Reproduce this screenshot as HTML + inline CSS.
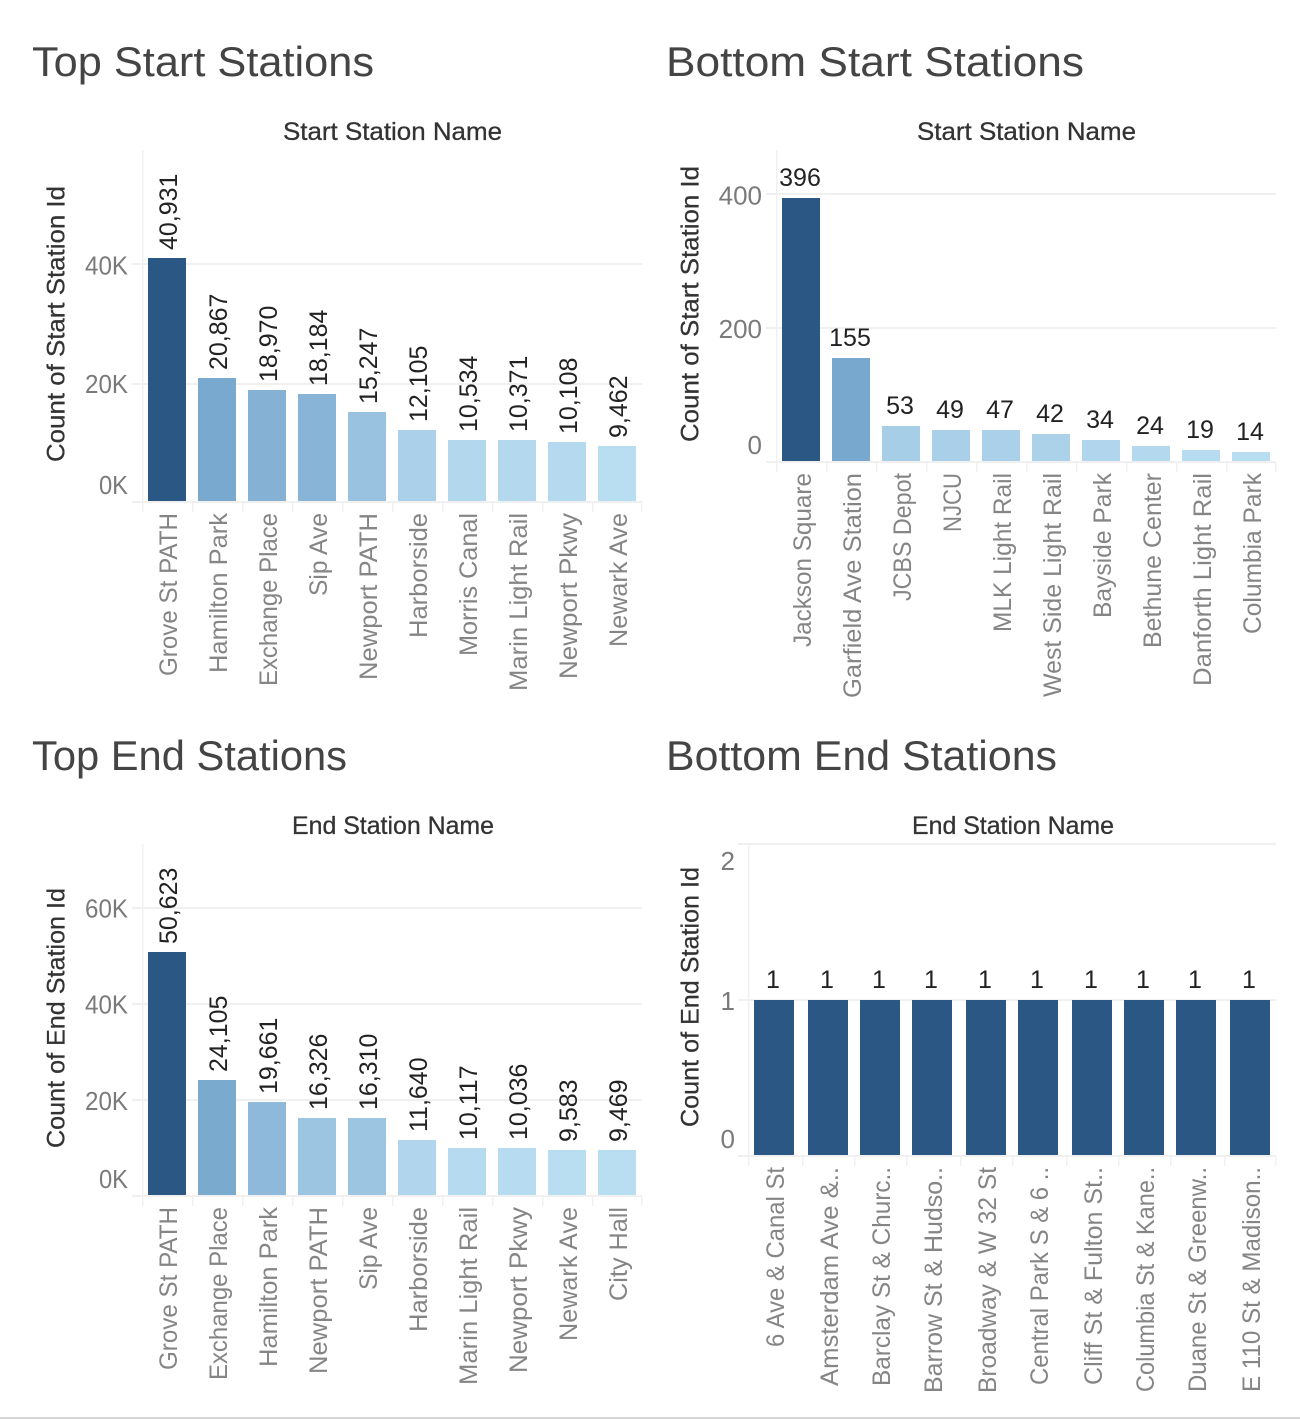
<!DOCTYPE html>
<html lang="en">
<head>
<meta charset="utf-8">
<title>Station Ride Counts</title>
<style>
html,body{margin:0;padding:0;background:#fff;width:1300px;height:1420px;overflow:hidden}
svg{display:block}
text{font-family:"Liberation Sans",sans-serif}
.title{font-size:42px;fill:#444}
.header{font-size:25px;fill:#333;stroke:#333;stroke-width:.3px;text-anchor:middle}
.axis-title{font-size:25px;fill:#333;stroke:#333;stroke-width:.25px;text-anchor:middle}
.tick-label{font-size:26px;fill:#7a7a7a;text-anchor:end}
.cat-label{font-size:25px;fill:#858585;text-anchor:end}
.value-label{font-size:25px;fill:#222}
</style>
</head>
<body>
<svg id="dash" xmlns="http://www.w3.org/2000/svg" width="1300" height="1420" viewBox="0 0 1300 1420">
  <text class="title" x="32" y="76" textLength="342" lengthAdjust="spacingAndGlyphs">Top Start Stations</text>
  <text class="title" x="666" y="76" textLength="418" lengthAdjust="spacingAndGlyphs">Bottom Start Stations</text>
  <text class="title" x="32" y="770" textLength="315" lengthAdjust="spacingAndGlyphs">Top End Stations</text>
  <text class="title" x="666" y="770" textLength="391" lengthAdjust="spacingAndGlyphs">Bottom End Stations</text>
  <rect x="0" y="1417" width="1300" height="2" fill="#d6d6d6"/>
</svg>
<script>
const topStartNames = ["Grove St PATH","Hamilton Park","Exchange Place","Sip Ave","Newport PATH","Harborside","Morris Canal","Marin Light Rail","Newport Pkwy","Newark Ave"];
const topStartCounts = [40931,20867,18970,18184,15247,12105,10534,10371,10108,9462];
const topStartTicks = [0,20000,40000];

const bottomStartNames = ["Jackson Square","Garfield Ave Station","JCBS Depot","NJCU","MLK Light Rail","West Side Light Rail","Bayside Park","Bethune Center","Danforth Light Rail","Columbia Park"];
const bottomStartCounts = [396,155,53,49,47,42,34,24,19,14];
const bottomStartTicks = [0,200,400];

const topEndNames = ["Grove St PATH","Exchange Place","Hamilton Park","Newport PATH","Sip Ave","Harborside","Marin Light Rail","Newport Pkwy","Newark Ave","City Hall"];
const topEndCounts = [50623,24105,19661,16326,16310,11640,10117,10036,9583,9469];
const topEndTicks = [0,20000,40000,60000];

const bottomEndNames = ["6 Ave & Canal St","Amsterdam Ave &..","Barclay St & Churc..","Barrow St & Hudso..","Broadway & W 32 St","Central Park S & 6 ..","Cliff St & Fulton St..","Columbia St & Kane..","Duane St & Greenw..","E 110 St & Madison.."];
const bottomEndCounts = [1,1,1,1,1,1,1,1,1,1];
const bottomEndTicks = [0,1,2];

/* typographic fit only: rendered run length of each station label */
const labelFit = {
  "Grove St PATH":163,"Hamilton Park":160,"Exchange Place":173,"Sip Ave":83,"Newport PATH":167,
  "Harborside":125,"Morris Canal":143,"Marin Light Rail":178,"Newport Pkwy":166,"Newark Ave":134,
  "Jackson Square":174,"Garfield Ave Station":225,"JCBS Depot":128,"NJCU":59,"MLK Light Rail":159,
  "West Side Light Rail":224,"Bayside Park":145,"Bethune Center":175,"Danforth Light Rail":213,"Columbia Park":161,
  "City Hall":94,"6 Ave & Canal St":180,"Amsterdam Ave &..":219,"Barclay St & Churc..":219,"Barrow St & Hudso..":226,
  "Broadway & W 32 St":226,"Central Park S & 6 ..":218,"Cliff St & Fulton St..":218,"Columbia St & Kane..":225,
  "Duane St & Greenw..":225,"E 110 St & Madison..":225
};

const NS = "http://www.w3.org/2000/svg";
const root = document.getElementById("dash");
const GRID = "#f0f0f0";

function make(tag, parent, attrs, txt) {
  const el = document.createElementNS(NS, tag);
  for (const k in attrs) el.setAttribute(k, attrs[k]);
  if (txt !== undefined) el.textContent = txt;
  parent.appendChild(el);
  return el;
}
function snap(v) { return Math.round(v / 2) * 2; }
function mix(a, b, t) {
  return "rgb(" + a.map((c, i) => Math.round(c + (b[i] - c) * t)).join(",") + ")";
}
function shade(v, min, max) {
  const light = [185,221,241], mid = [122,169,207], dark = [42,87,131];
  if (max === min) return mix(light, dark, 1);
  const t = (v - min) / (max - min);
  return t < .36 ? mix(light, mid, t / .36) : mix(mid, dark, (t - .36) / .64);
}

function drawChart(c) {
  const g = make("g", root, {});
  
  

  const zero = c.base + 1;
  const plotH = zero - c.top;
  const y = v => zero - v / c.domainMax * plotH;
  const barLeft = i => snap(c.left + c.step * i);
  const min = Math.min(...c.values), max = Math.max(...c.values);

  const header = make("text", g, {class:"header", x:c.headerX, y:c.top - 10, textLength:c.headerLen, lengthAdjust:"spacingAndGlyphs"}, c.headerText);
  
  

  const yTitle = make("text", g, {class:"axis-title", transform:"translate(" + c.yTitleX + " " + c.yTitleY + ") rotate(-90)", textLength:c.yTitleLen, lengthAdjust:"spacingAndGlyphs"}, c.yTitleText);
  
  

  const axisV = make("rect", g, {x:c.axisX - 1, y:c.top, width:1.5, height:c.base - c.top, fill:GRID});
  
  

  c.ticks.forEach(t => {
    const py = snap(y(t));
    if (t !== 0) {
      const grid = make("rect", g, {x:c.gridLeft, y:py - 1, width:c.gridRight - c.gridLeft, height:2, fill:GRID});
      
      
    }
    const by = Math.max(c.top + 26, Math.min(y(t) + 10, c.base - 7));
    const attrs = {class:"tick-label", x:c.tickRight, y:by};
    if (c.tickLen) { attrs.textLength = c.tickLen(t); attrs.lengthAdjust = "spacingAndGlyphs"; }
    const lab = make("text", g, attrs, c.fmt(t));
    
    
  });

  const baseLine = make("rect", g, {x:c.gridLeft, y:c.base, width:c.gridRight - c.gridLeft, height:2, fill:GRID});
  
  

  c.values.forEach((v, i) => {
    const x = barLeft(i), cx = x + c.barW / 2;
    const tick = make("rect", g, {x:x - 6, y:c.base + 2, width:1.5, height:9, fill:GRID});
    
    

    const top = snap(y(v));
    const bar = make("rect", g, {x:x, y:top, width:c.barW, height:c.base - top, fill:shade(v, min, max)});
    
    

    const txt = v.toLocaleString("en-US");
    const attrs = c.rotateValues
      ? {class:"value-label", transform:"translate(" + (cx + 10) + " " + (top - 8) + ") rotate(-90)"}
      : {class:"value-label", x:cx - 1, y:top - 12, "text-anchor":"middle"};
    const val = make("text", g, attrs, txt);
    
    

    const catAttrs = {class:"cat-label", transform:"translate(" + (cx + 10) + " " + (c.base + 12) + ") rotate(-90)"};
    if (labelFit[c.names[i]]) { catAttrs.textLength = labelFit[c.names[i]]; catAttrs.lengthAdjust = "spacingAndGlyphs"; }
    const cat = make("text", g, catAttrs, c.names[i]);
    
    
  });

  const endTick = make("rect", g, {x:c.gridRight - 1, y:c.base + 2, width:1.5, height:9, fill:GRID});
  
  
}

const kFmt = v => (v / 1000) + "K";
const plainFmt = v => String(v);
const kLen = v => v === 0 ? 29 : 43;

drawChart({name:"top-start-chart", names:topStartNames, values:topStartCounts, ticks:topStartTicks, fmt:kFmt, tickLen:kLen,
  top:150, base:501, domainMax:59259, left:148, step:50, barW:38, axisX:143, gridLeft:132, gridRight:642, tickRight:128,
  rotateValues:true, headerText:"Start Station Name", headerX:392.5, headerLen:219, yTitleText:"Count of Start Station Id", yTitleX:64.5, yTitleY:324, yTitleLen:276});

drawChart({name:"bottom-start-chart", names:bottomStartNames, values:bottomStartCounts, ticks:bottomStartTicks, fmt:plainFmt,
  top:150, base:461, domainMax:466.4, left:782, step:50, barW:38, axisX:777, gridLeft:766, gridRight:1276, tickRight:762,
  rotateValues:false, headerText:"Start Station Name", headerX:1026.5, headerLen:219, yTitleText:"Count of Start Station Id", yTitleX:698.5, yTitleY:304, yTitleLen:276});

drawChart({name:"top-end-chart", names:topEndNames, values:topEndCounts, ticks:topEndTicks, fmt:kFmt, tickLen:kLen,
  top:844, base:1195, domainMax:73181, left:148, step:50, barW:38, axisX:143, gridLeft:132, gridRight:642, tickRight:128,
  rotateValues:true, headerText:"End Station Name", headerX:393, headerLen:202, yTitleText:"Count of End Station Id", yTitleX:64.5, yTitleY:1018, yTitleLen:260});

drawChart({name:"bottom-end-chart", names:bottomEndNames, values:bottomEndCounts, ticks:bottomEndTicks, fmt:plainFmt,
  top:844, base:1155, domainMax:2, left:754.4, step:52.8, barW:40, axisX:749, gridLeft:738, gridRight:1276, tickRight:735,
  rotateValues:false, headerText:"End Station Name", headerX:1013, headerLen:202, yTitleText:"Count of End Station Id", yTitleX:698.5, yTitleY:997, yTitleLen:260});
</script>
</body>
</html>
